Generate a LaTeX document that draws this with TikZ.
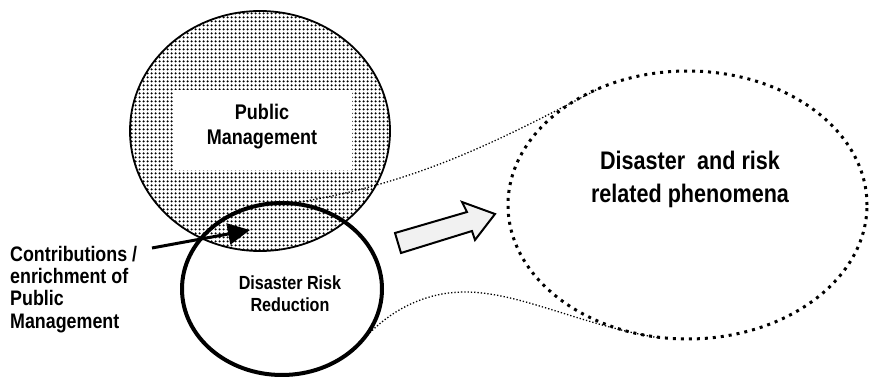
\documentclass[tikz,border=0pt]{standalone}
\usepackage{fontspec}
\setmainfont{Liberation Sans}[FakeStretch=0.85]
\usetikzlibrary{patterns.meta,arrows.meta,shapes.geometric}
\definecolor{arrowfill}{HTML}{F1F1F1}
\begin{document}
\begin{tikzpicture}[x=1pt,y=-1pt,
  lbl/.style={font=\bfseries, inner sep=0pt, align=center},
  thindots/.style={line width=1.3pt, dash pattern=on 1.3pt off 2pt, line cap=butt},
  circ/.style={ellipse, inner sep=0pt, draw=black}]
\useasboundingbox (0,0) rectangle (871,377);

% Public Management circle
\node[circ, line width=1.8pt, minimum width=260, minimum height=240,
      pattern={Dots[distance=4pt, radius=1.5pt]}, pattern color=black] (pm) at (260,131) {};
\node[fill=white, inner sep=0pt, minimum width=179, minimum height=80] (pmbox) at (262.5,130) {};
\node[lbl, font=\bfseries\fontsize{21.2}{25}\selectfont] (pmtext) at (262,127) {Public\\Management};

% Disaster and risk related phenomena
\node[circ, line width=3pt, dash pattern=on 3pt off 5pt, minimum width=359, minimum height=268] (phen) at (687.5,205) {};
\node[lbl, font=\bfseries\fontsize{25.4}{33}\selectfont] (phentext) at (690,179) {Disaster\ \ and risk\\related phenomena};

% connecting dotted lines
\coordinate (upA) at (300,202);
\coordinate (upB) at (600,88);
\draw[thindots] (upA) .. controls (420,182) and (500,140) .. (upB);
\coordinate (loA) at (363,340);
\coordinate (loM) at (465,292);
\coordinate (loB) at (660,338);
\draw[thindots] (loA) .. controls (385,315) and (420,292) .. (loM)
                      .. controls (520,292) and (580,325) .. (loB);

% Disaster Risk Reduction circle
\node[circ, line width=4pt, minimum width=200, minimum height=172] (drr) at (282,289) {};
\node[lbl, font=\bfseries\fontsize{19}{22.4}\selectfont] (drrtext) at (290,294) {Disaster Risk\\Reduction};

% block arrow
\draw[line width=2pt, fill=arrowfill, line join=miter]
  (395,233) -- (467,212) -- (462,202) -- (495,214) -- (475,240) -- (472,231) -- (401,253) -- cycle;

% contributions label and arrow
\node[lbl, align=left, anchor=north west, font=\bfseries\fontsize{21}{22.2}\selectfont] (contrib) at (10,246)
  {Contributions /\\enrichment of\\Public\\Management};
\coordinate (ctail) at (152,248);
\coordinate (chead) at (250,230);
\draw[line width=3pt, -{Triangle[length=22pt, width=21pt]}] (ctail) -- (chead);
\end{tikzpicture}
\end{document}
